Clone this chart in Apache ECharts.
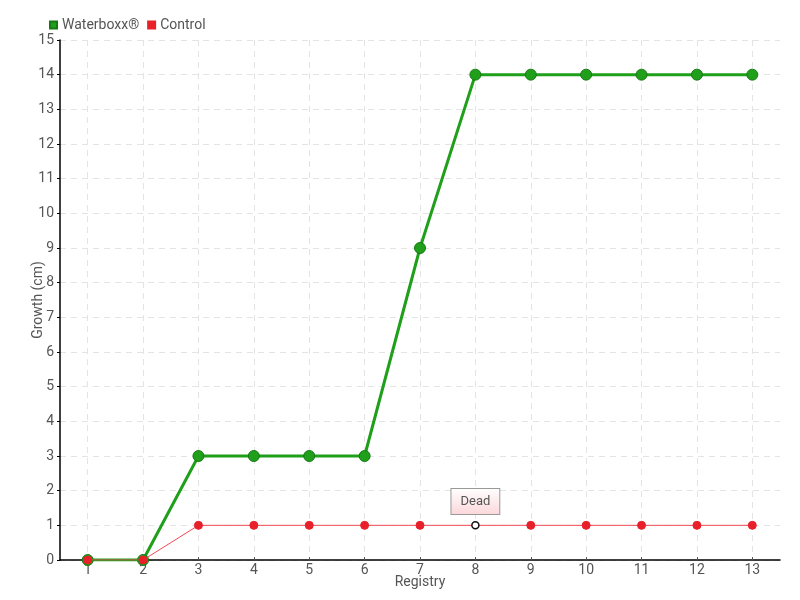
<!DOCTYPE html>
<html>
<head>
<meta charset="utf-8">
<script src="https://cdn.jsdelivr.net/npm/echarts@6/dist/echarts.min.js"></script>
<style>
  html, body { margin: 0; padding: 0; background: #fff; }
  #chart { width: 800px; height: 600px; }
</style>
</head>
<body>
<div id="chart"></div>
<script>
  // 数据
  const registry = ['1','2','3','4','5','6','7','8','9','10','11','12','13'];
  const waterboxx = [0, 0, 3, 3, 3, 3, 9, 14, 14, 14, 14, 14, 14];
  const control = [0, 0, 1, 1, 1, 1, 1, 1, 1, 1, 1, 1, 1];
  const deadIndex = 7;

  const font = 'Roboto, sans-serif';
  const myChart = echarts.init(document.getElementById('chart'));

  const controlData = control.map(function (v, i) {
    if (i !== deadIndex) return v;
    return {
      value: v,
      symbolSize: 7,
      itemStyle: { color: '#fff', borderColor: '#111', borderWidth: 1.5 },
      label: {
        show: true,
        formatter: 'Dead',
        position: 'top',
        distance: 7,
        color: '#555',
        fontFamily: font,
        fontSize: 13,
        padding: [6, 9, 6, 9],
        borderColor: '#999',
        borderWidth: 1,
        backgroundColor: {
          type: 'linear', x: 0, y: 0, x2: 0, y2: 1,
          colorStops: [{ offset: 0, color: '#ffffff' }, { offset: 1, color: '#fcd6da' }]
        }
      }
    };
  });

  const option = {
    animation: false,
    textStyle: { fontFamily: font },
    legend: {
      left: 44,
      top: 13,
      itemWidth: 7,
      itemHeight: 7,
      itemGap: 8,
      icon: 'rect',
      textStyle: { color: '#555', fontSize: 14, fontFamily: font },
      data: ['Waterboxx®', 'Control']
    },
    grid: { left: 60, right: 20, top: 40, bottom: 40 },
    xAxis: {
      type: 'category',
      data: registry,
      name: 'Registry',
      nameLocation: 'middle',
      nameGap: 15,
      nameMoveOverlap: false,
      nameTextStyle: { color: '#555', fontSize: 14, fontFamily: font },
      axisLine: { lineStyle: { color: '#000', width: 1.5 } },
      axisTick: { show: true, alignWithLabel: true, inside: true, length: 3, lineStyle: { color: '#555' } },
      axisLabel: { color: '#555', fontSize: 14, margin: 3, fontFamily: font },
      splitLine: { show: true, alignWithLabel: true, lineStyle: { color: '#e4e4e4', type: [6, 5] } }
    },
    yAxis: {
      type: 'value',
      min: 0,
      max: 15,
      interval: 1,
      name: 'Growth (cm)',
      nameLocation: 'middle',
      nameGap: 15,
      nameMoveOverlap: false,
      nameTextStyle: { color: '#555', fontSize: 14, fontFamily: font },
      axisLine: { show: true, lineStyle: { color: '#000', width: 1.5 } },
      axisTick: { show: true, length: 3, lineStyle: { color: '#000' } },
      axisLabel: { color: '#555', fontSize: 14, margin: 6, fontFamily: font },
      splitLine: { show: true, lineStyle: { color: '#e4e4e4', type: [6, 5] } }
    },
    series: [
      {
        name: 'Waterboxx®',
        type: 'line',
        data: waterboxx,
        symbol: 'circle',
        symbolSize: 11,
        color: '#1f9f1a',
        lineStyle: { color: '#1f9f1a', width: 3 },
        itemStyle: { color: '#1f9f1a', borderColor: '#167a13', borderWidth: 1 },
        z: 2
      },
      {
        name: 'Control',
        type: 'line',
        data: controlData,
        symbol: 'circle',
        symbolSize: 8,
        color: '#e8202a',
        lineStyle: { color: '#f04a55', width: 1 },
        itemStyle: { color: '#e8202a', borderColor: '#e8202a', borderWidth: 1 },
        z: 3
      }
    ]
  };
  myChart.setOption(option);
</script>
</body>
</html>
